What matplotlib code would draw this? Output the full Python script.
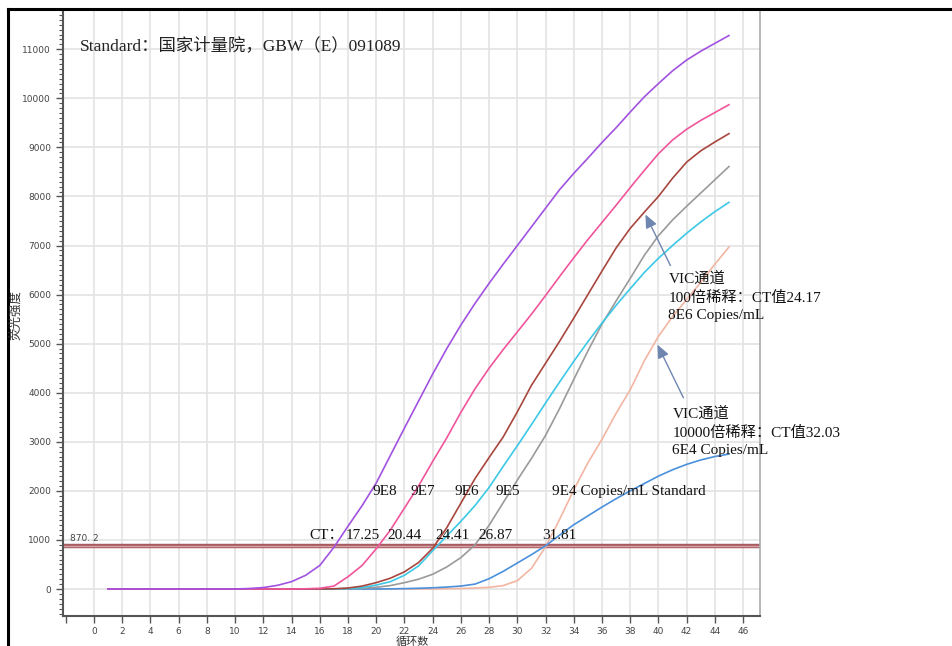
import numpy as np
import matplotlib.pyplot as plt
from matplotlib.lines import Line2D
from matplotlib.ticker import MultipleLocator

# cycles 1..45
cycles = list(range(1, 46))

# fluorescence, one value per cycle
purple_9e8 = [0, 0, 0, 0, 0, 0, 0, 0, 0, 0, 10, 30, 75, 150, 280, 480, 850, 1280, 1700, 2160,
              2720, 3280, 3830, 4380, 4900, 5380, 5820, 6230, 6620, 7000, 7380, 7760, 8140, 8470, 8780,
              9100, 9400, 9720, 10030, 10300, 10560, 10780, 10960, 11120, 11280]
pink_9e7 = [0, 0, 0, 0, 0, 0, 0, 0, 0, 0, 0, 0, 0, 0, 5, 15, 60, 250, 480, 820,
            1200, 1650, 2100, 2600, 3080, 3600, 4080, 4500, 4880, 5240, 5600, 5980, 6370, 6750, 7120,
            7470, 7820, 8180, 8530, 8870, 9150, 9370, 9550, 9710, 9870]
brown_9e6 = [0, 0, 0, 0, 0, 0, 0, 0, 0, 0, 0, 0, 0, 0, 0, 0, 5, 20, 60, 130,
             220, 350, 540, 830, 1250, 1750, 2250, 2680, 3100, 3610, 4150, 4600, 5050, 5520, 6000,
             6480, 6950, 7350, 7680, 8000, 8370, 8700, 8930, 9110, 9280]
cyan_vic100 = [0, 0, 0, 0, 0, 0, 0, 0, 0, 0, 0, 0, 0, 0, 0, 0, 3, 10, 30, 80,
               150, 280, 470, 780, 1080, 1380, 1700, 2070, 2500, 2920, 3350, 3790, 4220, 4640, 5040,
               5420, 5780, 6120, 6450, 6740, 7000, 7250, 7480, 7690, 7880]
gray_9e5 = [0, 0, 0, 0, 0, 0, 0, 0, 0, 0, 0, 0, 0, 0, 0, 0, 0, 5, 15, 35,
            70, 130, 200, 300, 450, 640, 900, 1300, 1760, 2220, 2660, 3130, 3680, 4270, 4850,
            5400, 5870, 6330, 6800, 7200, 7520, 7800, 8070, 8340, 8610]
salmon_vic10000 = [0, 0, 0, 0, 0, 0, 0, 0, 0, 0, 0, 0, 0, 0, 0, 0, 0, 0, 0, 0,
                   0, 0, 0, 0, 5, 10, 20, 35, 70, 170, 420, 860, 1420, 2020, 2570,
                   3050, 3580, 4060, 4650, 5150, 5550, 5900, 6250, 6620, 6970]
blue_9e4 = [0, 0, 0, 0, 0, 0, 0, 0, 0, 0, 0, 0, 0, 0, 0, 0, 0, 0, 0, 0,
            3, 8, 15, 25, 40, 60, 100, 210, 360, 530, 700, 880, 1100, 1310, 1490,
            1670, 1840, 2000, 2150, 2300, 2430, 2540, 2630, 2700, 2750]

threshold = 870.2

sample_names = ["9E8", "9E7", "9E6", "9E5", "9E4 Copies/mL Standard"]
name_x = [19.72, 22.41, 25.53, 28.44, 32.48]
ct_values = ["17.25", "20.44", "24.41", "26.87", "31.81"]
ct_x = [17.80, 20.78, 24.18, 27.23, 31.77]

serif = ['Liberation Serif', 'Noto Sans CJK SC']
cjk = ['Noto Sans CJK SC', 'DejaVu Sans']

fig = plt.figure(figsize=(9.53, 6.46), dpi=100)
W, H = 953, 646
ax = fig.add_axes([63 / W, 30 / H, (760 - 63) / W, (636 - 30) / H])

ax.set_xlim(-2.2, 47.2)
ax.set_ylim(-550, 11800)

# grid
ax.set_xticks(np.arange(-2, 47, 2))
ax.set_xticklabels([''] + [str(v) for v in range(0, 47, 2)])
ax.set_yticks(np.arange(0, 11001, 1000))
ax.yaxis.set_minor_locator(MultipleLocator(100))
for v in range(0, 47, 2):
    ax.axvline(v, color='#e3e3e3', lw=1.2, zorder=0)
for v in range(0, 11001, 1000):
    ax.axhline(v, color='#e3e3e3', lw=1.2, zorder=0)

ax.tick_params(axis='both', which='major', labelsize=6.5, labelcolor='#444444',
               color='#555555', length=5, width=1)
ax.tick_params(axis='y', which='minor', length=3, color='#555555', width=0.8)
ax.tick_params(axis='x', pad=3)

for s in ['left', 'bottom']:
    ax.spines[s].set_color('#555555')
    ax.spines[s].set_linewidth(1.5)
ax.spines['right'].set_color('#aaaaaa')
ax.spines['right'].set_linewidth(1.2)
ax.spines['top'].set_visible(False)

# threshold line
ax.axhline(threshold, color='#a85a60', lw=3.2, zorder=2)
ax.axhline(threshold, color='#d6a4a6', lw=1.0, zorder=2)
ax.text(-1.70, 1020, "870. 2", fontsize=6.5, color='#444444', va='center', ha='left')

# amplification curves
ax.plot(cycles, salmon_vic10000, color='#f2b6a2', lw=1.2, zorder=3)
ax.plot(cycles, blue_9e4, color='#4a90dc', lw=1.2, zorder=3)
ax.plot(cycles, gray_9e5, color='#9a9a9a', lw=1.2, zorder=3)
ax.plot(cycles, cyan_vic100, color='#3cc8e6', lw=1.2, zorder=3)
ax.plot(cycles, brown_9e6, color='#a8463e', lw=1.2, zorder=3)
ax.plot(cycles, pink_9e7, color='#f0559c', lw=1.2, zorder=3)
ax.plot(cycles, purple_9e8, color='#a152e0', lw=1.2, zorder=3)

# texts
ax.text(-0.99, 11080, "Standard：国家计量院，GBW（E）091089", family=serif,
        fontsize=12.5, color='#222222', va='center', ha='left')

for name, x in zip(sample_names, name_x):
    ax.text(x, 1980, name, family=serif, fontsize=11, color='#111111', va='center', ha='left')
ax.text(15.25, 1082, "CT：", family=serif, fontsize=11, color='#111111', va='center', ha='left')
for ct, x in zip(ct_values, ct_x):
    ax.text(x, 1082, ct, family=serif, fontsize=11, color='#111111', va='center', ha='left')

ax.text(40.71, 6470, "VIC通道\n100倍稀释：CT值24.17\n8E6 Copies/mL", family=serif,
        fontsize=11, color='#111111', va='top', ha='left', linespacing=1.45)
ax.text(40.99, 3720, "VIC通道\n10000倍稀释：CT值32.03\n6E4 Copies/mL", family=serif,
        fontsize=11, color='#111111', va='top', ha='left', linespacing=1.45)

arrow = dict(arrowstyle='-|>,head_length=0.8,head_width=0.35', color='#6f86b0', lw=1.0,
             shrinkA=0, shrinkB=0)
ax.annotate('', xy=(39.08, 7633), xytext=(40.85, 6592), arrowprops=arrow, zorder=5)
ax.annotate('', xy=(39.93, 4980), xytext=(41.77, 3898), arrowprops=arrow, zorder=5)

# axis titles
fig.text(16 / W, 1 - 315 / H, "荧光强度", rotation=90, family=cjk, fontsize=9,
         color='#333333', va='center', ha='center')
fig.text(412 / W, 1 - 641.5 / H, "循环数", family=cjk, fontsize=8,
         color='#333333', va='center', ha='center')

# outer frame
fig.add_artist(Line2D([8 / W, 8 / W], [0, 1 - 9 / H], color='black', lw=2.2,
                      transform=fig.transFigure))
fig.add_artist(Line2D([8 / W, 1], [1 - 9 / H, 1 - 9 / H], color='black', lw=2.2,
                      transform=fig.transFigure))

fig.savefig('out.png', dpi=100)
